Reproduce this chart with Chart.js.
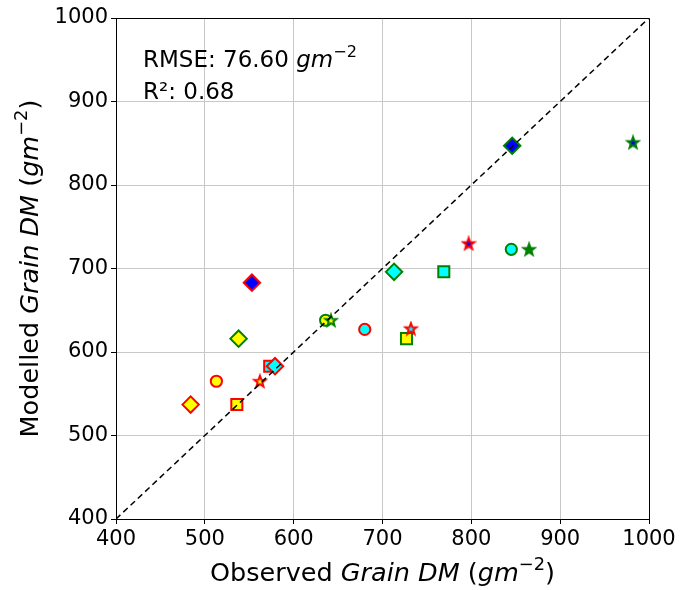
<!DOCTYPE html>
<html>
<head>
<meta charset="utf-8">
<script src="https://cdn.jsdelivr.net/npm/chart.js@4"></script>
<style>
  html, body { margin: 0; padding: 0; background: #fff; }
  #wrap { width: 682px; height: 590px; }
</style>
</head>
<body>
<div id="wrap"><canvas id="scatter_canvas" width="682" height="590"></canvas></div>
<script>
/*----- Observed vs modelled grain dry matter -----*/

// Observed and modelled grain DM (g m-2), one entry per plot
const observed = [484, 513, 536, 562, 573, 579, 553, 538, 636, 642, 680, 727, 732, 713, 769, 797, 845, 865, 846, 982];
const modelled = [537, 565, 537, 565, 583, 583, 683, 616, 638, 638, 627, 616, 628, 696, 696, 730, 723, 723, 847, 851];

// Marker shape, face and edge for each point
const shapes = ['diamond', 'circle', 'square', 'star', 'square', 'diamond', 'diamond', 'diamond', 'circle', 'star',
                'circle', 'square', 'star', 'diamond', 'square', 'star', 'circle', 'star', 'diamond', 'star'];
const faces = ['yellow', 'yellow', 'yellow', 'yellow', 'cyan', 'cyan', 'blue', 'yellow', 'yellow', 'yellow',
               'cyan', 'yellow', 'cyan', 'cyan', 'cyan', 'blue', 'cyan', 'green', 'blue', 'blue'];
const edges = ['red', 'red', 'red', 'red', 'red', 'red', 'red', 'green', 'green', 'green',
               'red', 'green', 'red', 'green', 'green', 'red', 'green', 'green', 'green', 'green'];

const axisTicks = [400, 500, 600, 700, 800, 900, 1000];
const statsLines = ['RMSE: 76.60', 'R²: 0.68'];

const FONT = "'DejaVu Sans', sans-serif";
const colorMap = { red: '#ff0000', green: '#008000', yellow: '#ffff00', cyan: '#00ffff', blue: '#0000ff' };

// 5-pointed star marker drawn on a small canvas (Chart.js 'star' is an asterisk)
function makeStar(face, edge) {
    const c = document.createElement('canvas');
    c.width = 16; c.height = 16;
    const g = c.getContext('2d');
    const R = 6, r = 2.5;
    g.beginPath();
    for (let i = 0; i < 10; i++) {
        const rad = (i % 2 === 0) ? R : r;
        const a = -Math.PI / 2 + i * Math.PI / 5;
        const px = 8 + rad * Math.cos(a), py = 8.5 + rad * Math.sin(a);
        if (i === 0) g.moveTo(px, py); else g.lineTo(px, py);
    }
    g.closePath();
    g.fillStyle = colorMap[face];
    g.fill();
    g.lineWidth = 2;
    g.lineJoin = 'miter';
    g.strokeStyle = colorMap[edge];
    g.stroke();
    return c;
}

const points = observed.map((x, i) => ({ x: x, y: modelled[i] }));

function pointStyleFor(i) {
    if (shapes[i] === 'star') return makeStar(faces[i], edges[i]);
    if (shapes[i] === 'diamond') return 'rectRot';
    if (shapes[i] === 'square') return 'rect';
    return 'circle';
}
function radiusFor(i) {
    if (shapes[i] === 'diamond') return 8.2;
    if (shapes[i] === 'square') return 7.8;
    return 5.6;
}

// Draw a label made of plain / italic / superscript pieces
function richText(ctx, parts, size) {
    const pieces = parts.map(p => {
        const fs = p.sup ? size * 0.7 : size;
        const font = (p.italic ? 'italic ' : '') + fs + 'px ' + FONT;
        ctx.font = font;
        return { t: p.t, font: font, w: ctx.measureText(p.t).width, dy: p.sup ? -size * 0.42 : 0 };
    });
    return { pieces: pieces, width: pieces.reduce((s, p) => s + p.w, 0) };
}
function drawRich(ctx, rich, x, y) {
    let cx = x;
    rich.pieces.forEach(p => {
        ctx.font = p.font;
        ctx.fillText(p.t, cx, y + p.dy);
        cx += p.w;
    });
}

const unitParts = [{ t: ' (' }, { t: 'gm', italic: true }, { t: '−2', sup: true }, { t: ')' }];

const decorations = {
    id: 'decorations',
    afterDraw(chart) {
        const ctx = chart.ctx;
        const area = chart.chartArea;
        ctx.save();
        // top and right spines
        ctx.strokeStyle = '#000';
        ctx.lineWidth = 1;
        ctx.beginPath();
        ctx.moveTo(area.left, area.top + 0.5);
        ctx.lineTo(area.right + 0.5, area.top + 0.5);
        ctx.lineTo(area.right + 0.5, area.bottom);
        ctx.stroke();

        ctx.fillStyle = '#000';
        ctx.textBaseline = 'alphabetic';
        ctx.textAlign = 'left';

        // statistics box
        const rmse = richText(ctx, [{ t: statsLines[0] + ' ' }, { t: 'gm', italic: true }, { t: '−2', sup: true }], 23);
        drawRich(ctx, rmse, area.left + 27, 67);
        drawRich(ctx, richText(ctx, [{ t: statsLines[1] }], 23), area.left + 27, 99);

        // x axis title
        const xt = richText(ctx, [{ t: 'Observed ' }, { t: 'Grain DM', italic: true }].concat(unitParts), 25.5);
        drawRich(ctx, xt, (area.left + area.right) / 2 - xt.width / 2, 581);

        // y axis title
        const yt = richText(ctx, [{ t: 'Modelled ' }, { t: 'Grain DM', italic: true }].concat(unitParts), 25.5);
        ctx.translate(38, (area.top + area.bottom) / 2);
        ctx.rotate(-Math.PI / 2);
        drawRich(ctx, yt, -yt.width / 2, 0);
        ctx.restore();
    }
};

let context = document.getElementById('scatter_canvas').getContext('2d');

const axisOptions = (fit) => ({
    type: 'linear',
    min: 400,
    max: 1000,
    afterBuildTicks: (scale) => { scale.ticks = axisTicks.map(v => ({ value: v })); },
    afterFit: fit,
    ticks: {
        color: '#000',
        font: { family: FONT, size: 21 },
        padding: 3,
        callback: (v) => String(v)
    },
    grid: {
        color: '#c8c8c8',
        lineWidth: 1,
        tickColor: '#000',
        tickLength: 5
    },
    border: { color: '#000', width: 1 }
});

let scatter_chart = new Chart(context, {
    data: {
        datasets: [{
            type: 'line',
            data: [{ x: 400, y: 400 }, { x: 1000, y: 1000 }],
            borderColor: '#000',
            borderWidth: 1.5,
            borderDash: [6, 4],
            pointRadius: 0,
            order: 0
        }, {
            type: 'scatter',
            data: points,
            pointStyle: (c) => pointStyleFor(c.dataIndex),
            pointRadius: (c) => radiusFor(c.dataIndex),
            backgroundColor: (c) => colorMap[faces[c.dataIndex]],
            borderColor: (c) => colorMap[edges[c.dataIndex]],
            borderWidth: 2,
            order: 1
        }]
    },
    options: {
        responsive: false,
        animation: false,
        layout: { padding: { left: 0, right: 33, top: 18, bottom: 0 } },
        plugins: { legend: { display: false }, tooltip: { enabled: false } },
        scales: {
            x: axisOptions((s) => { s.height = 71; }),
            y: axisOptions((s) => { s.width = 116; })
        }
    },
    plugins: [decorations]
});
</script>
</body>
</html>
